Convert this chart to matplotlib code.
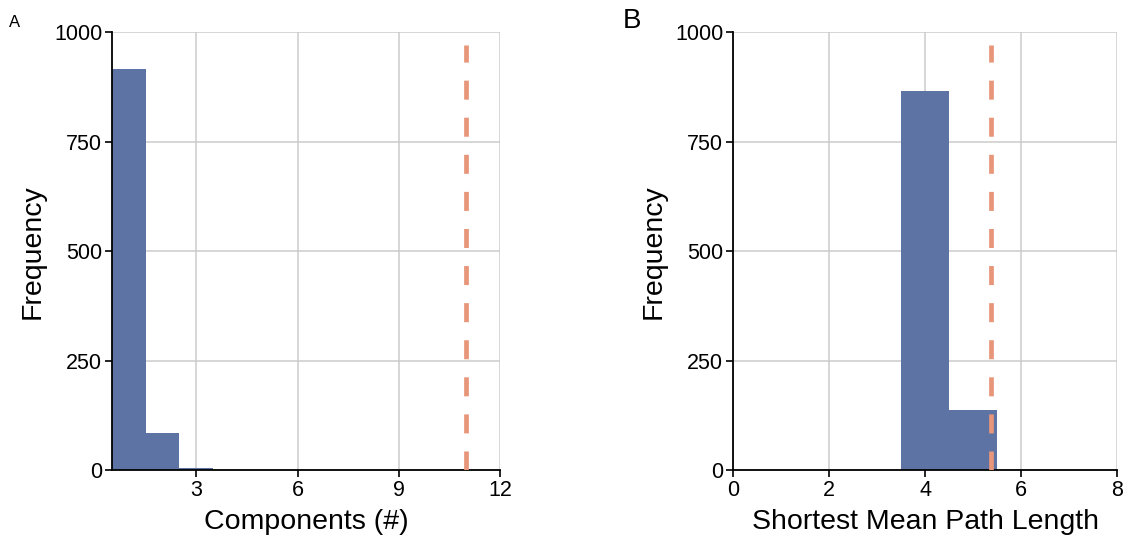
import matplotlib
matplotlib.use("Agg")
import matplotlib.pyplot as plt

plt.rcParams['font.family'] = ['Liberation Sans', 'DejaVu Sans']
plt.rcParams['lines.scale_dashes'] = False

# Panel A: components histogram
comp_bin_left = [0.5, 1.5, 2.5]
comp_counts = [917, 84, 5]
comp_observed = 11.0
comp_xticks = [3, 6, 9, 12]

# Panel B: shortest mean path length histogram
path_bin_left = [3.5, 4.5]
path_counts = [866, 138]
path_observed = 5.38
path_xticks = [0, 2, 4, 6, 8]

yticks = [0, 250, 500, 750, 1000]
bar_color = '#5C73A4'
line_color = '#E8967A'

fig = plt.figure(figsize=(11.3, 5.46), dpi=100)
axA = fig.add_axes([0.099, 0.139, 0.3435, 0.802])
axB = fig.add_axes([0.6487, 0.139, 0.3398, 0.802])

def style(ax, xlim, xticks, xlabel):
    ax.set_xlim(*xlim)
    ax.set_ylim(0, 1000)
    ax.set_xticks(xticks)
    ax.set_yticks(yticks)
    ax.grid(True, color='#CBCBCB', linewidth=1.1)
    ax.set_axisbelow(True)
    for s in ['top', 'right']:
        ax.spines[s].set_visible(False)
    for s in ['left', 'bottom']:
        ax.spines[s].set_linewidth(1.3)
        ax.spines[s].set_color('black')
    ax.tick_params(axis='both', labelsize=15.5, length=5, width=1.2, direction='out', pad=2)
    ax.set_xlabel(xlabel, fontsize=20.5, labelpad=6)
    ax.set_ylabel('Frequency', fontsize=20.5, labelpad=6)

axA.bar(comp_bin_left, comp_counts, width=1.0, align='edge', color=bar_color, linewidth=0, zorder=2)
axA.plot([comp_observed, comp_observed], [0, 970], color=line_color, linewidth=3.4,
         linestyle=(0, (13.7, 13.0)), zorder=3)
style(axA, (0.5, 12), comp_xticks, 'Components (#)')

axB.bar(path_bin_left, path_counts, width=1.0, align='edge', color=bar_color, linewidth=0, zorder=2)
axB.plot([path_observed, path_observed], [0, 970], color=line_color, linewidth=3.4,
         linestyle=(0, (13.7, 13.0)), zorder=3)
style(axB, (0, 8), path_xticks, 'Shortest Mean Path Length')

fig.text(0.008, 0.958, 'A', fontsize=12, ha='left', va='center')
fig.text(0.551, 0.962, 'B', fontsize=20, ha='left', va='center')

fig.savefig('out.png', dpi=100)
